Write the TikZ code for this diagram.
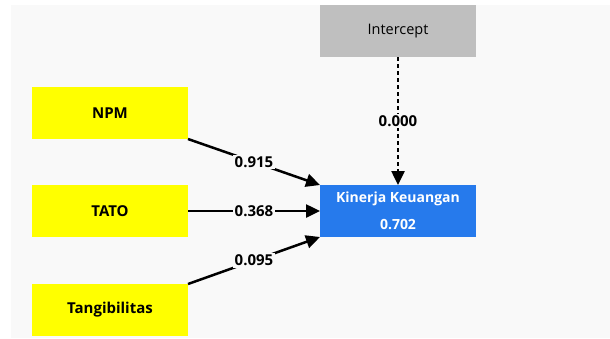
\documentclass[tikz,border=0pt]{standalone}
\usepackage{fontspec}
\setmainfont{Open Sans}
\usetikzlibrary{arrows.meta}

\definecolor{panelgray}{HTML}{F9F9F9}
\definecolor{latentyellow}{HTML}{FFFF00}
\definecolor{interceptgray}{HTML}{BFBFBF}
\definecolor{targetblue}{RGB}{38,122,236}

\tikzset{
  varbox/.style={minimum width=156pt, minimum height=52pt, inner sep=0pt, outer sep=0pt, font=\fontsize{15}{18}\selectfont\bfseries},
  indep/.style={varbox, fill=latentyellow},
  path/.style={line width=2.5pt, -{Triangle[length=14pt,width=13pt]}},
  coef/.style={midway, fill=panelgray, inner sep=1.5pt, font=\fontsize{15}{18}\selectfont\bfseries}
}

\begin{document}
\begin{tikzpicture}[x=1pt,y=-1pt] % regression path model
  \useasboundingbox (0,0) rectangle (610,338);
  \fill[panelgray] (11,5) rectangle (610,338);

  \node[indep] (npm) at (110,113) {NPM};
  \node[indep] (tato) at (110,211) {TATO};
  \node[indep] (tangib) at (110,310) {Tangibilitas};
  \node[varbox, fill=interceptgray, font=\fontsize{14.5}{18}\selectfont] (intercept) at (398,31) {Intercept};
  \node[varbox, fill=targetblue, text=white, align=center, font=\fontsize{14}{27}\selectfont\bfseries] (kinerja) at (398,211) {Kinerja Keuangan\\0.702};

  \draw[path] (npm.south east) -- (kinerja.north west) node[coef] {0.915};
  \draw[path] (tato) -- (kinerja) node[coef] {0.368};
  \draw[path] (tangib.north east) -- (kinerja.south west) node[coef] {0.095};
  \draw[path, dash pattern=on 4pt off 3pt] (intercept) -- (kinerja) node[coef] {0.000};
\end{tikzpicture}
\end{document}
